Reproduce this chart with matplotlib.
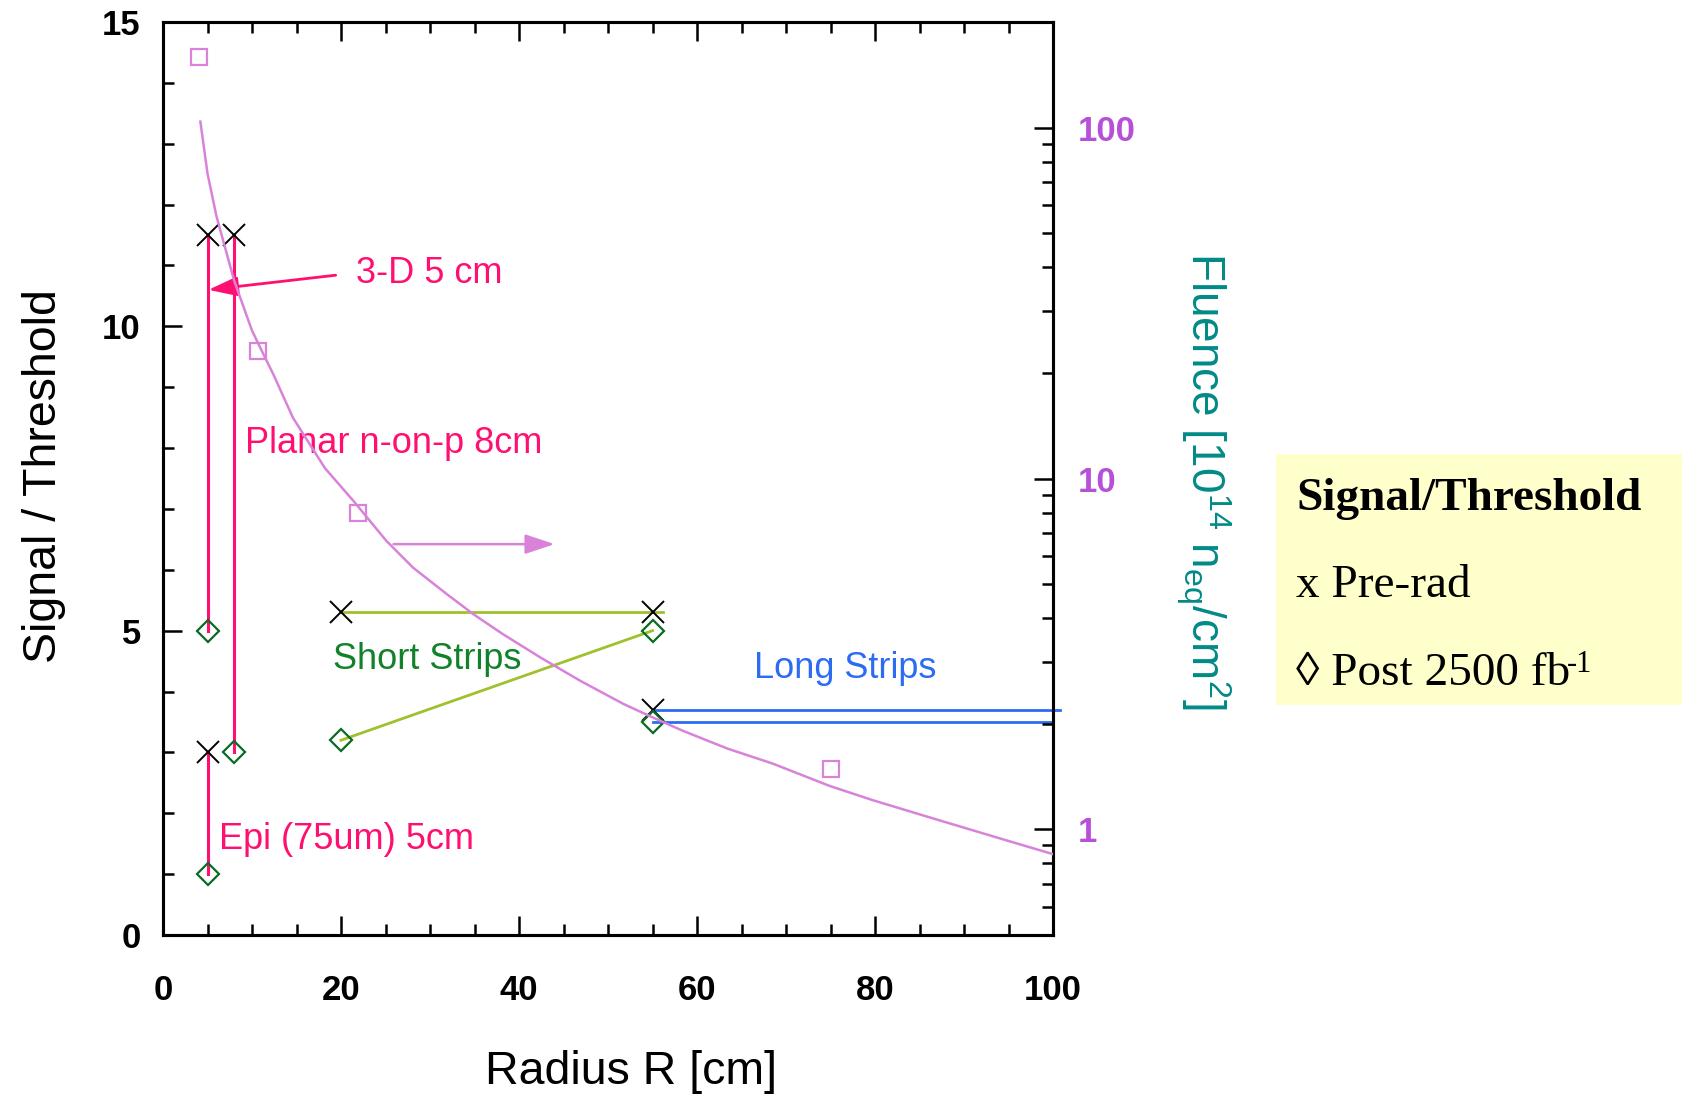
import matplotlib
matplotlib.use('Agg')
import matplotlib.pyplot as plt
from matplotlib.ticker import LogLocator, NullFormatter, FixedLocator
from matplotlib.patches import Rectangle

plt.rcParams['font.family'] = ['Liberation Sans', 'DejaVu Sans']
plt.rcParams['mathtext.fontset'] = 'custom'
plt.rcParams['mathtext.rm'] = 'Liberation Sans'
plt.rcParams['mathtext.it'] = 'Liberation Sans:italic'
plt.rcParams['mathtext.bf'] = 'Liberation Sans:bold'

# ---------------- data ----------------
# Signal / Threshold: pre-rad (x) and post 2500 fb-1 (diamond)
# order: 3-D 5cm, Planar 8cm, Epi 5cm, Short strips 20cm, Short strips 55cm, Long strips 55cm
pre_R = [5, 8, 5, 20, 55, 55]
pre_ST = [11.5, 11.5, 3.0, 5.3, 5.3, 3.7]
post_R = [5, 8, 5, 20, 55, 55]
post_ST = [5.0, 3.0, 1.0, 3.2, 5.0, 3.5]

# Fluence curve [1e14 neq/cm2] vs radius
curve_R = [4.2, 5, 6, 8, 10, 11.1, 12.4, 14.6, 18.2, 21.4, 25.1, 28.1, 31.9, 34.9,
           38.2, 42.4, 46.9, 51.7, 55.1, 58.4, 63.4, 68.5, 74.9, 79.8, 87.3, 94.8, 100]
curve_F = [104, 74, 56, 36.6, 26.4, 23.1, 19.8, 14.9, 10.7, 8.63, 6.64, 5.57, 4.68, 4.10,
           3.60, 3.09, 2.65, 2.28, 2.08, 1.91, 1.70, 1.54, 1.33, 1.21, 1.06, 0.93, 0.85]
# Fluence reference points (open squares)
sq_R = [4.0, 10.7, 21.9, 75.1]
sq_F = [159, 23.1, 8.0, 1.49]

x_ticks = [0, 20, 40, 60, 80, 100]
x_ticklabels = ['0', '20', '40', '60', '80', '100']
y_ticks = [0, 5, 10, 15]
y_ticklabels = ['0', '5', '10', '15']
f_ticks = [1, 10, 100]
f_ticklabels = ['1', '10', '100']

# ---------------- style ----------------
pink = '#ff1070'
lime = '#9fc12d'
dgreen = '#0b6b22'
tgreen = '#11822a'
blue = '#2c6cf2'
orchid = '#d982d9'
purple = '#b650d8'
teal = '#008a86'

W, H = 1682, 1096
fig = plt.figure(figsize=(W / 100, H / 100), dpi=100)
ax = fig.add_axes([163 / W, 1 - 935 / H, 890 / W, 913 / H])
ax.set_xlim(0, 100)
ax.set_ylim(0, 15)
ax2 = ax.twinx()
ax2.set_yscale('log')
ax2.set_ylim(0.5, 200)

# vertical pixel detector lines
for i in range(3):
    ax.plot([pre_R[i], post_R[i]], [pre_ST[i], post_ST[i]], color=pink, lw=2.2, zorder=2)
# short strips
ax.plot([pre_R[3], pre_R[4] + 1.2], [pre_ST[3], pre_ST[4]], color=lime, lw=2.0, zorder=2)
ax.plot([post_R[3], post_R[4]], [post_ST[3], post_ST[4]], color=lime, lw=2.0, zorder=2)
# long strips
ax.plot([pre_R[5], 100.8], [pre_ST[5], pre_ST[5]], color=blue, lw=2.0, zorder=2, clip_on=False)
ax.plot([post_R[5], 100], [post_ST[5], post_ST[5]], color=blue, lw=2.0, zorder=2)

ax.plot(pre_R, pre_ST, ls='none', marker='x', color='black', ms=16, mew=1.4, zorder=4)
ax.plot(post_R, post_ST, ls='none', marker='D', mfc='none', mec=dgreen, ms=11, mew=1.6, zorder=4)

# 3-D arrow
ax.annotate('', xy=(5.1, 10.6), xytext=(19.4, 10.84),
            arrowprops=dict(arrowstyle='-|>,head_length=0.9,head_width=0.3', color=pink,
                            lw=2.0, mutation_scale=20, shrinkA=0, shrinkB=0))

fs = 26
ax.text(21.7, 10.87, '3-D 5 cm', color=pink, fontsize=fs, va='center', ha='left')
ax.text(9.2, 8.08, 'Planar n-on-p 8cm', color=pink, fontsize=fs, va='center', ha='left')
ax.text(6.3, 1.57, 'Epi (75um) 5cm', color=pink, fontsize=fs, va='center', ha='left')
ax.text(19.1, 4.53, 'Short Strips', color=tgreen, fontsize=fs, va='center', ha='left')
ax.text(66.4, 4.38, 'Long Strips', color=blue, fontsize=fs, va='center', ha='left')

# fluence curve
ax2.plot(curve_R, curve_F, color=orchid, lw=1.8, zorder=3)
ax2.plot(sq_R, sq_F, ls='none', marker='s', mfc='none', mec=orchid, ms=12, mew=1.6, zorder=3)
ax2.annotate('', xy=(44.0, 6.5), xytext=(25.9, 6.5),
             arrowprops=dict(arrowstyle='-|>,head_length=0.9,head_width=0.3', color=orchid,
                             lw=1.8, mutation_scale=20, shrinkA=0, shrinkB=0))

# ticks
ax.set_xticks(x_ticks)
ax.set_xticklabels(x_ticklabels, fontweight='bold', fontsize=25)
ax.set_yticks(y_ticks)
ax.set_yticklabels(y_ticklabels, fontweight='bold', fontsize=25)
ax.xaxis.set_minor_locator(FixedLocator([v for v in range(0, 101, 5) if v % 20]))
ax.yaxis.set_minor_locator(FixedLocator([v for v in range(0, 16) if v % 5]))
ax.tick_params(axis='x', which='both', direction='in', top=True, bottom=True)
ax.tick_params(axis='y', which='both', direction='in', left=True, right=False)
ax.tick_params(which='major', length=13.5, width=1.8)
ax.tick_params(which='minor', length=8, width=1.8)
ax.tick_params(axis='x', which='major', pad=28)
ax.tick_params(axis='y', which='major', pad=16)

ax2.set_yticks(f_ticks)
ax2.set_yticklabels(f_ticklabels, fontweight='bold', fontsize=25, color=purple)
ax2.yaxis.set_minor_locator(LogLocator(base=10, subs=[2, 3, 4, 5, 6, 7, 8, 9]))
ax2.yaxis.set_minor_formatter(NullFormatter())
ax2.tick_params(axis='y', which='both', direction='in', right=True)
ax2.tick_params(axis='y', which='major', length=13.5, width=1.8, pad=18)
ax2.tick_params(axis='y', which='minor', length=8, width=1.8)

for a in (ax, ax2):
    for s in a.spines.values():
        s.set_linewidth(2.2)

# axis labels
fig.text(631.5 / W, 1 - 1083.5 / H, 'Radius R [cm]', fontsize=33.5, ha='center', va='baseline')
fig.text(56 / W, 1 - 476 / H, 'Signal / Threshold', fontsize=33.5, ha='center', va='baseline',
         rotation=90, rotation_mode='anchor')
fig.text(1191 / W, 1 - 481 / H, r'Fluence [10$^{14}$ n$_{\mathrm{eq}}$/cm$^{2}$]', fontsize=33,
         color=teal, ha='center', va='baseline', rotation=270, rotation_mode='anchor')

# legend box
fig.patches.append(Rectangle((1276 / W, 1 - 705 / H), 406 / W, 251 / H, transform=fig.transFigure,
                             facecolor='#ffffcc', edgecolor='none', zorder=0))
serif = ['Liberation Serif', 'DejaVu Serif']
fig.text(1296 / W, 1 - 510 / H, 'Signal/Threshold', fontsize=34, fontweight='bold',
         family=serif, va='baseline', ha='left')
fig.text(1296 / W, 1 - 597 / H, 'x Pre-rad', fontsize=34, family=serif, va='baseline', ha='left')
fig.text(1296 / W, 1 - 685 / H, '\u25ca Post 2500 fb', fontsize=34, family=serif,
         va='baseline', ha='left')
fig.text(1567 / W, 1 - 672 / H, '-1', fontsize=22, family=serif, va='baseline', ha='left')

fig.savefig('out.png', dpi=100)
